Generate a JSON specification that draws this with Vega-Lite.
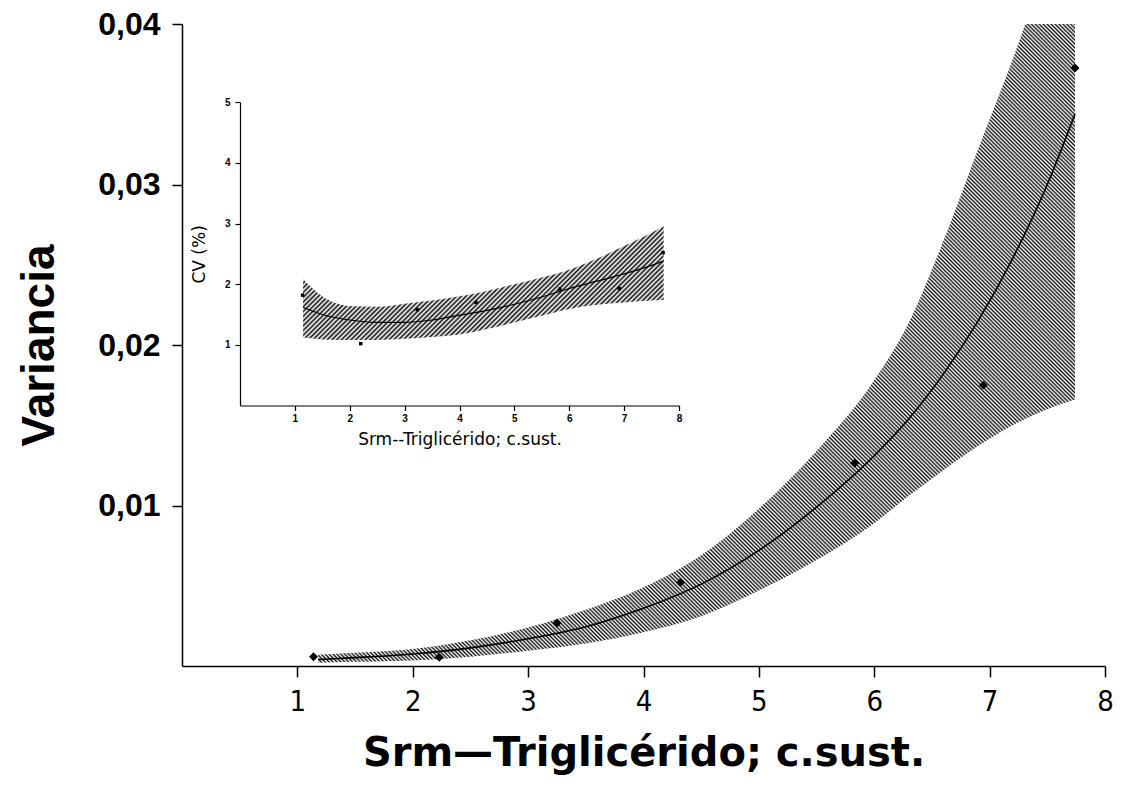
{
  "$schema": "https://vega.github.io/schema/vega-lite/v6.json",
  "width": 923,
  "height": 642,
  "autosize": "none",
  "padding": {"left": 182, "top": 24, "right": 17, "bottom": 123},
  "background": "white",
  "config": {"view": {"stroke": null}, "axis": {"grid": false, "labelFlush": false, "labelOverlap": false}},
  "datasets": {
    "mainCurve": [
      {"x": 1.18, "fit": 0.0004, "lo": 0.0002, "hi": 0.0007},
      {"x": 1.5, "fit": 0.00052, "lo": 0.00026, "hi": 0.00082},
      {"x": 2.0, "fit": 0.00075, "lo": 0.00035, "hi": 0.00106},
      {"x": 2.5, "fit": 0.00113, "lo": 0.00058, "hi": 0.0016},
      {"x": 3.0, "fit": 0.0017, "lo": 0.00095, "hi": 0.0024},
      {"x": 3.5, "fit": 0.00245, "lo": 0.0014, "hi": 0.0035},
      {"x": 4.0, "fit": 0.0036, "lo": 0.0021, "hi": 0.0049},
      {"x": 4.5, "fit": 0.0051, "lo": 0.0031, "hi": 0.0069},
      {"x": 5.0, "fit": 0.0072, "lo": 0.0047, "hi": 0.0098},
      {"x": 5.5, "fit": 0.0099, "lo": 0.0066, "hi": 0.0134},
      {"x": 6.0, "fit": 0.0131, "lo": 0.0089, "hi": 0.0178},
      {"x": 6.3, "fit": 0.0154, "lo": 0.0106, "hi": 0.0214},
      {"x": 6.6, "fit": 0.0182, "lo": 0.0122, "hi": 0.0265},
      {"x": 6.9, "fit": 0.0215, "lo": 0.0137, "hi": 0.0322},
      {"x": 7.2, "fit": 0.0254, "lo": 0.015, "hi": 0.0378},
      {"x": 7.5, "fit": 0.03, "lo": 0.016, "hi": 0.044},
      {"x": 7.74, "fit": 0.0344, "lo": 0.0166, "hi": 0.049}
    ],
    "mainPts": [
      {"x": 1.14, "v": 0.00058},
      {"x": 2.23, "v": 0.00055},
      {"x": 3.25, "v": 0.00268},
      {"x": 4.32, "v": 0.00521},
      {"x": 5.83, "v": 0.01263},
      {"x": 6.945, "v": 0.0175},
      {"x": 7.74, "v": 0.03726}
    ],
    "insetCurve": [
      {"x": 1.15, "fit": 1.62, "lo": 1.12, "hi": 2.08},
      {"x": 1.5, "fit": 1.5, "lo": 1.09, "hi": 1.8},
      {"x": 2.0, "fit": 1.41, "lo": 1.08, "hi": 1.64},
      {"x": 2.5, "fit": 1.37, "lo": 1.08, "hi": 1.63},
      {"x": 3.0, "fit": 1.37, "lo": 1.1, "hi": 1.68},
      {"x": 3.5, "fit": 1.41, "lo": 1.13, "hi": 1.73},
      {"x": 4.0, "fit": 1.49, "lo": 1.17, "hi": 1.8},
      {"x": 4.5, "fit": 1.57, "lo": 1.26, "hi": 1.89},
      {"x": 5.0, "fit": 1.67, "lo": 1.37, "hi": 2.0},
      {"x": 5.5, "fit": 1.79, "lo": 1.48, "hi": 2.11},
      {"x": 6.0, "fit": 1.93, "lo": 1.59, "hi": 2.24},
      {"x": 6.5, "fit": 2.05, "lo": 1.66, "hi": 2.42},
      {"x": 7.0, "fit": 2.17, "lo": 1.7, "hi": 2.63},
      {"x": 7.5, "fit": 2.31, "lo": 1.73, "hi": 2.85},
      {"x": 7.72, "fit": 2.38, "lo": 1.74, "hi": 2.96}
    ],
    "insetPts": [
      {"x": 1.14, "cv": 1.82},
      {"x": 2.2, "cv": 1.02},
      {"x": 3.23, "cv": 1.58},
      {"x": 4.3, "cv": 1.7},
      {"x": 5.83, "cv": 1.92},
      {"x": 6.91, "cv": 1.93},
      {"x": 7.71, "cv": 2.52}
    ]
  },
  "layer": [
    {
      "layer": [
        {
          "data": {"name": "mainCurve"},
          "mark": {"type": "area", "clip": true, "interpolate": "monotone",
            "fill": {"gradient": "linear", "x1": 0, "y1": 1, "x2": 1, "y2": -0.035, "stops": [
{"offset":0,"color":"#111"},{"offset":0.00125,"color":"#fff"},{"offset":0.0025,"color":"#111"},{"offset":0.00375,"color":"#fff"},{"offset":0.005,"color":"#111"},{"offset":0.00625,"color":"#fff"},{"offset":0.0075,"color":"#111"},{"offset":0.00875,"color":"#fff"},
{"offset":0.01,"color":"#111"},{"offset":0.01125,"color":"#fff"},{"offset":0.0125,"color":"#111"},{"offset":0.01375,"color":"#fff"},{"offset":0.015,"color":"#111"},{"offset":0.01625,"color":"#fff"},{"offset":0.0175,"color":"#111"},{"offset":0.01875,"color":"#fff"},
{"offset":0.02,"color":"#111"},{"offset":0.02125,"color":"#fff"},{"offset":0.0225,"color":"#111"},{"offset":0.02375,"color":"#fff"},{"offset":0.025,"color":"#111"},{"offset":0.02625,"color":"#fff"},{"offset":0.0275,"color":"#111"},{"offset":0.02875,"color":"#fff"},
{"offset":0.03,"color":"#111"},{"offset":0.03125,"color":"#fff"},{"offset":0.0325,"color":"#111"},{"offset":0.03375,"color":"#fff"},{"offset":0.035,"color":"#111"},{"offset":0.03625,"color":"#fff"},{"offset":0.0375,"color":"#111"},{"offset":0.03875,"color":"#fff"},
{"offset":0.04,"color":"#111"},{"offset":0.04125,"color":"#fff"},{"offset":0.0425,"color":"#111"},{"offset":0.04375,"color":"#fff"},{"offset":0.045,"color":"#111"},{"offset":0.04625,"color":"#fff"},{"offset":0.0475,"color":"#111"},{"offset":0.04875,"color":"#fff"},
{"offset":0.05,"color":"#111"},{"offset":0.05125,"color":"#fff"},{"offset":0.0525,"color":"#111"},{"offset":0.05375,"color":"#fff"},{"offset":0.055,"color":"#111"},{"offset":0.05625,"color":"#fff"},{"offset":0.0575,"color":"#111"},{"offset":0.05875,"color":"#fff"},
{"offset":0.06,"color":"#111"},{"offset":0.06125,"color":"#fff"},{"offset":0.0625,"color":"#111"},{"offset":0.06375,"color":"#fff"},{"offset":0.065,"color":"#111"},{"offset":0.06625,"color":"#fff"},{"offset":0.0675,"color":"#111"},{"offset":0.06875,"color":"#fff"},
{"offset":0.07,"color":"#111"},{"offset":0.07125,"color":"#fff"},{"offset":0.0725,"color":"#111"},{"offset":0.07375,"color":"#fff"},{"offset":0.075,"color":"#111"},{"offset":0.07625,"color":"#fff"},{"offset":0.0775,"color":"#111"},{"offset":0.07875,"color":"#fff"},
{"offset":0.08,"color":"#111"},{"offset":0.08125,"color":"#fff"},{"offset":0.0825,"color":"#111"},{"offset":0.08375,"color":"#fff"},{"offset":0.085,"color":"#111"},{"offset":0.08625,"color":"#fff"},{"offset":0.0875,"color":"#111"},{"offset":0.08875,"color":"#fff"},
{"offset":0.09,"color":"#111"},{"offset":0.09125,"color":"#fff"},{"offset":0.0925,"color":"#111"},{"offset":0.09375,"color":"#fff"},{"offset":0.095,"color":"#111"},{"offset":0.09625,"color":"#fff"},{"offset":0.0975,"color":"#111"},{"offset":0.09875,"color":"#fff"},
{"offset":0.1,"color":"#111"},{"offset":0.10125,"color":"#fff"},{"offset":0.1025,"color":"#111"},{"offset":0.10375,"color":"#fff"},{"offset":0.105,"color":"#111"},{"offset":0.10625,"color":"#fff"},{"offset":0.1075,"color":"#111"},{"offset":0.10875,"color":"#fff"},
{"offset":0.11,"color":"#111"},{"offset":0.11125,"color":"#fff"},{"offset":0.1125,"color":"#111"},{"offset":0.11375,"color":"#fff"},{"offset":0.115,"color":"#111"},{"offset":0.11625,"color":"#fff"},{"offset":0.1175,"color":"#111"},{"offset":0.11875,"color":"#fff"},
{"offset":0.12,"color":"#111"},{"offset":0.12125,"color":"#fff"},{"offset":0.1225,"color":"#111"},{"offset":0.12375,"color":"#fff"},{"offset":0.125,"color":"#111"},{"offset":0.12625,"color":"#fff"},{"offset":0.1275,"color":"#111"},{"offset":0.12875,"color":"#fff"},
{"offset":0.13,"color":"#111"},{"offset":0.13125,"color":"#fff"},{"offset":0.1325,"color":"#111"},{"offset":0.13375,"color":"#fff"},{"offset":0.135,"color":"#111"},{"offset":0.13625,"color":"#fff"},{"offset":0.1375,"color":"#111"},{"offset":0.13875,"color":"#fff"},
{"offset":0.14,"color":"#111"},{"offset":0.14125,"color":"#fff"},{"offset":0.1425,"color":"#111"},{"offset":0.14375,"color":"#fff"},{"offset":0.145,"color":"#111"},{"offset":0.14625,"color":"#fff"},{"offset":0.1475,"color":"#111"},{"offset":0.14875,"color":"#fff"},
{"offset":0.15,"color":"#111"},{"offset":0.15125,"color":"#fff"},{"offset":0.1525,"color":"#111"},{"offset":0.15375,"color":"#fff"},{"offset":0.155,"color":"#111"},{"offset":0.15625,"color":"#fff"},{"offset":0.1575,"color":"#111"},{"offset":0.15875,"color":"#fff"},
{"offset":0.16,"color":"#111"},{"offset":0.16125,"color":"#fff"},{"offset":0.1625,"color":"#111"},{"offset":0.16375,"color":"#fff"},{"offset":0.165,"color":"#111"},{"offset":0.16625,"color":"#fff"},{"offset":0.1675,"color":"#111"},{"offset":0.16875,"color":"#fff"},
{"offset":0.17,"color":"#111"},{"offset":0.17125,"color":"#fff"},{"offset":0.1725,"color":"#111"},{"offset":0.17375,"color":"#fff"},{"offset":0.175,"color":"#111"},{"offset":0.17625,"color":"#fff"},{"offset":0.1775,"color":"#111"},{"offset":0.17875,"color":"#fff"},
{"offset":0.18,"color":"#111"},{"offset":0.18125,"color":"#fff"},{"offset":0.1825,"color":"#111"},{"offset":0.18375,"color":"#fff"},{"offset":0.185,"color":"#111"},{"offset":0.18625,"color":"#fff"},{"offset":0.1875,"color":"#111"},{"offset":0.18875,"color":"#fff"},
{"offset":0.19,"color":"#111"},{"offset":0.19125,"color":"#fff"},{"offset":0.1925,"color":"#111"},{"offset":0.19375,"color":"#fff"},{"offset":0.195,"color":"#111"},{"offset":0.19625,"color":"#fff"},{"offset":0.1975,"color":"#111"},{"offset":0.19875,"color":"#fff"},
{"offset":0.2,"color":"#111"},{"offset":0.20125,"color":"#fff"},{"offset":0.2025,"color":"#111"},{"offset":0.20375,"color":"#fff"},{"offset":0.205,"color":"#111"},{"offset":0.20625,"color":"#fff"},{"offset":0.2075,"color":"#111"},{"offset":0.20875,"color":"#fff"},
{"offset":0.21,"color":"#111"},{"offset":0.21125,"color":"#fff"},{"offset":0.2125,"color":"#111"},{"offset":0.21375,"color":"#fff"},{"offset":0.215,"color":"#111"},{"offset":0.21625,"color":"#fff"},{"offset":0.2175,"color":"#111"},{"offset":0.21875,"color":"#fff"},
{"offset":0.22,"color":"#111"},{"offset":0.22125,"color":"#fff"},{"offset":0.2225,"color":"#111"},{"offset":0.22375,"color":"#fff"},{"offset":0.225,"color":"#111"},{"offset":0.22625,"color":"#fff"},{"offset":0.2275,"color":"#111"},{"offset":0.22875,"color":"#fff"},
{"offset":0.23,"color":"#111"},{"offset":0.23125,"color":"#fff"},{"offset":0.2325,"color":"#111"},{"offset":0.23375,"color":"#fff"},{"offset":0.235,"color":"#111"},{"offset":0.23625,"color":"#fff"},{"offset":0.2375,"color":"#111"},{"offset":0.23875,"color":"#fff"},
{"offset":0.24,"color":"#111"},{"offset":0.24125,"color":"#fff"},{"offset":0.2425,"color":"#111"},{"offset":0.24375,"color":"#fff"},{"offset":0.245,"color":"#111"},{"offset":0.24625,"color":"#fff"},{"offset":0.2475,"color":"#111"},{"offset":0.24875,"color":"#fff"},
{"offset":0.25,"color":"#111"},{"offset":0.25125,"color":"#fff"},{"offset":0.2525,"color":"#111"},{"offset":0.25375,"color":"#fff"},{"offset":0.255,"color":"#111"},{"offset":0.25625,"color":"#fff"},{"offset":0.2575,"color":"#111"},{"offset":0.25875,"color":"#fff"},
{"offset":0.26,"color":"#111"},{"offset":0.26125,"color":"#fff"},{"offset":0.2625,"color":"#111"},{"offset":0.26375,"color":"#fff"},{"offset":0.265,"color":"#111"},{"offset":0.26625,"color":"#fff"},{"offset":0.2675,"color":"#111"},{"offset":0.26875,"color":"#fff"},
{"offset":0.27,"color":"#111"},{"offset":0.27125,"color":"#fff"},{"offset":0.2725,"color":"#111"},{"offset":0.27375,"color":"#fff"},{"offset":0.275,"color":"#111"},{"offset":0.27625,"color":"#fff"},{"offset":0.2775,"color":"#111"},{"offset":0.27875,"color":"#fff"},
{"offset":0.28,"color":"#111"},{"offset":0.28125,"color":"#fff"},{"offset":0.2825,"color":"#111"},{"offset":0.28375,"color":"#fff"},{"offset":0.285,"color":"#111"},{"offset":0.28625,"color":"#fff"},{"offset":0.2875,"color":"#111"},{"offset":0.28875,"color":"#fff"},
{"offset":0.29,"color":"#111"},{"offset":0.29125,"color":"#fff"},{"offset":0.2925,"color":"#111"},{"offset":0.29375,"color":"#fff"},{"offset":0.295,"color":"#111"},{"offset":0.29625,"color":"#fff"},{"offset":0.2975,"color":"#111"},{"offset":0.29875,"color":"#fff"},
{"offset":0.3,"color":"#111"},{"offset":0.30125,"color":"#fff"},{"offset":0.3025,"color":"#111"},{"offset":0.30375,"color":"#fff"},{"offset":0.305,"color":"#111"},{"offset":0.30625,"color":"#fff"},{"offset":0.3075,"color":"#111"},{"offset":0.30875,"color":"#fff"},
{"offset":0.31,"color":"#111"},{"offset":0.31125,"color":"#fff"},{"offset":0.3125,"color":"#111"},{"offset":0.31375,"color":"#fff"},{"offset":0.315,"color":"#111"},{"offset":0.31625,"color":"#fff"},{"offset":0.3175,"color":"#111"},{"offset":0.31875,"color":"#fff"},
{"offset":0.32,"color":"#111"},{"offset":0.32125,"color":"#fff"},{"offset":0.3225,"color":"#111"},{"offset":0.32375,"color":"#fff"},{"offset":0.325,"color":"#111"},{"offset":0.32625,"color":"#fff"},{"offset":0.3275,"color":"#111"},{"offset":0.32875,"color":"#fff"},
{"offset":0.33,"color":"#111"},{"offset":0.33125,"color":"#fff"},{"offset":0.3325,"color":"#111"},{"offset":0.33375,"color":"#fff"},{"offset":0.335,"color":"#111"},{"offset":0.33625,"color":"#fff"},{"offset":0.3375,"color":"#111"},{"offset":0.33875,"color":"#fff"},
{"offset":0.34,"color":"#111"},{"offset":0.34125,"color":"#fff"},{"offset":0.3425,"color":"#111"},{"offset":0.34375,"color":"#fff"},{"offset":0.345,"color":"#111"},{"offset":0.34625,"color":"#fff"},{"offset":0.3475,"color":"#111"},{"offset":0.34875,"color":"#fff"},
{"offset":0.35,"color":"#111"},{"offset":0.35125,"color":"#fff"},{"offset":0.3525,"color":"#111"},{"offset":0.35375,"color":"#fff"},{"offset":0.355,"color":"#111"},{"offset":0.35625,"color":"#fff"},{"offset":0.3575,"color":"#111"},{"offset":0.35875,"color":"#fff"},
{"offset":0.36,"color":"#111"},{"offset":0.36125,"color":"#fff"},{"offset":0.3625,"color":"#111"},{"offset":0.36375,"color":"#fff"},{"offset":0.365,"color":"#111"},{"offset":0.36625,"color":"#fff"},{"offset":0.3675,"color":"#111"},{"offset":0.36875,"color":"#fff"},
{"offset":0.37,"color":"#111"},{"offset":0.37125,"color":"#fff"},{"offset":0.3725,"color":"#111"},{"offset":0.37375,"color":"#fff"},{"offset":0.375,"color":"#111"},{"offset":0.37625,"color":"#fff"},{"offset":0.3775,"color":"#111"},{"offset":0.37875,"color":"#fff"},
{"offset":0.38,"color":"#111"},{"offset":0.38125,"color":"#fff"},{"offset":0.3825,"color":"#111"},{"offset":0.38375,"color":"#fff"},{"offset":0.385,"color":"#111"},{"offset":0.38625,"color":"#fff"},{"offset":0.3875,"color":"#111"},{"offset":0.38875,"color":"#fff"},
{"offset":0.39,"color":"#111"},{"offset":0.39125,"color":"#fff"},{"offset":0.3925,"color":"#111"},{"offset":0.39375,"color":"#fff"},{"offset":0.395,"color":"#111"},{"offset":0.39625,"color":"#fff"},{"offset":0.3975,"color":"#111"},{"offset":0.39875,"color":"#fff"},
{"offset":0.4,"color":"#111"},{"offset":0.40125,"color":"#fff"},{"offset":0.4025,"color":"#111"},{"offset":0.40375,"color":"#fff"},{"offset":0.405,"color":"#111"},{"offset":0.40625,"color":"#fff"},{"offset":0.4075,"color":"#111"},{"offset":0.40875,"color":"#fff"},
{"offset":0.41,"color":"#111"},{"offset":0.41125,"color":"#fff"},{"offset":0.4125,"color":"#111"},{"offset":0.41375,"color":"#fff"},{"offset":0.415,"color":"#111"},{"offset":0.41625,"color":"#fff"},{"offset":0.4175,"color":"#111"},{"offset":0.41875,"color":"#fff"},
{"offset":0.42,"color":"#111"},{"offset":0.42125,"color":"#fff"},{"offset":0.4225,"color":"#111"},{"offset":0.42375,"color":"#fff"},{"offset":0.425,"color":"#111"},{"offset":0.42625,"color":"#fff"},{"offset":0.4275,"color":"#111"},{"offset":0.42875,"color":"#fff"},
{"offset":0.43,"color":"#111"},{"offset":0.43125,"color":"#fff"},{"offset":0.4325,"color":"#111"},{"offset":0.43375,"color":"#fff"},{"offset":0.435,"color":"#111"},{"offset":0.43625,"color":"#fff"},{"offset":0.4375,"color":"#111"},{"offset":0.43875,"color":"#fff"},
{"offset":0.44,"color":"#111"},{"offset":0.44125,"color":"#fff"},{"offset":0.4425,"color":"#111"},{"offset":0.44375,"color":"#fff"},{"offset":0.445,"color":"#111"},{"offset":0.44625,"color":"#fff"},{"offset":0.4475,"color":"#111"},{"offset":0.44875,"color":"#fff"},
{"offset":0.45,"color":"#111"},{"offset":0.45125,"color":"#fff"},{"offset":0.4525,"color":"#111"},{"offset":0.45375,"color":"#fff"},{"offset":0.455,"color":"#111"},{"offset":0.45625,"color":"#fff"},{"offset":0.4575,"color":"#111"},{"offset":0.45875,"color":"#fff"},
{"offset":0.46,"color":"#111"},{"offset":0.46125,"color":"#fff"},{"offset":0.4625,"color":"#111"},{"offset":0.46375,"color":"#fff"},{"offset":0.465,"color":"#111"},{"offset":0.46625,"color":"#fff"},{"offset":0.4675,"color":"#111"},{"offset":0.46875,"color":"#fff"},
{"offset":0.47,"color":"#111"},{"offset":0.47125,"color":"#fff"},{"offset":0.4725,"color":"#111"},{"offset":0.47375,"color":"#fff"},{"offset":0.475,"color":"#111"},{"offset":0.47625,"color":"#fff"},{"offset":0.4775,"color":"#111"},{"offset":0.47875,"color":"#fff"},
{"offset":0.48,"color":"#111"},{"offset":0.48125,"color":"#fff"},{"offset":0.4825,"color":"#111"},{"offset":0.48375,"color":"#fff"},{"offset":0.485,"color":"#111"},{"offset":0.48625,"color":"#fff"},{"offset":0.4875,"color":"#111"},{"offset":0.48875,"color":"#fff"},
{"offset":0.49,"color":"#111"},{"offset":0.49125,"color":"#fff"},{"offset":0.4925,"color":"#111"},{"offset":0.49375,"color":"#fff"},{"offset":0.495,"color":"#111"},{"offset":0.49625,"color":"#fff"},{"offset":0.4975,"color":"#111"},{"offset":0.49875,"color":"#fff"},
{"offset":0.5,"color":"#111"},{"offset":0.50125,"color":"#fff"},{"offset":0.5025,"color":"#111"},{"offset":0.50375,"color":"#fff"},{"offset":0.505,"color":"#111"},{"offset":0.50625,"color":"#fff"},{"offset":0.5075,"color":"#111"},{"offset":0.50875,"color":"#fff"},
{"offset":0.51,"color":"#111"},{"offset":0.51125,"color":"#fff"},{"offset":0.5125,"color":"#111"},{"offset":0.51375,"color":"#fff"},{"offset":0.515,"color":"#111"},{"offset":0.51625,"color":"#fff"},{"offset":0.5175,"color":"#111"},{"offset":0.51875,"color":"#fff"},
{"offset":0.52,"color":"#111"},{"offset":0.52125,"color":"#fff"},{"offset":0.5225,"color":"#111"},{"offset":0.52375,"color":"#fff"},{"offset":0.525,"color":"#111"},{"offset":0.52625,"color":"#fff"},{"offset":0.5275,"color":"#111"},{"offset":0.52875,"color":"#fff"},
{"offset":0.53,"color":"#111"},{"offset":0.53125,"color":"#fff"},{"offset":0.5325,"color":"#111"},{"offset":0.53375,"color":"#fff"},{"offset":0.535,"color":"#111"},{"offset":0.53625,"color":"#fff"},{"offset":0.5375,"color":"#111"},{"offset":0.53875,"color":"#fff"},
{"offset":0.54,"color":"#111"},{"offset":0.54125,"color":"#fff"},{"offset":0.5425,"color":"#111"},{"offset":0.54375,"color":"#fff"},{"offset":0.545,"color":"#111"},{"offset":0.54625,"color":"#fff"},{"offset":0.5475,"color":"#111"},{"offset":0.54875,"color":"#fff"},
{"offset":0.55,"color":"#111"},{"offset":0.55125,"color":"#fff"},{"offset":0.5525,"color":"#111"},{"offset":0.55375,"color":"#fff"},{"offset":0.555,"color":"#111"},{"offset":0.55625,"color":"#fff"},{"offset":0.5575,"color":"#111"},{"offset":0.55875,"color":"#fff"},
{"offset":0.56,"color":"#111"},{"offset":0.56125,"color":"#fff"},{"offset":0.5625,"color":"#111"},{"offset":0.56375,"color":"#fff"},{"offset":0.565,"color":"#111"},{"offset":0.56625,"color":"#fff"},{"offset":0.5675,"color":"#111"},{"offset":0.56875,"color":"#fff"},
{"offset":0.57,"color":"#111"},{"offset":0.57125,"color":"#fff"},{"offset":0.5725,"color":"#111"},{"offset":0.57375,"color":"#fff"},{"offset":0.575,"color":"#111"},{"offset":0.57625,"color":"#fff"},{"offset":0.5775,"color":"#111"},{"offset":0.57875,"color":"#fff"},
{"offset":0.58,"color":"#111"},{"offset":0.58125,"color":"#fff"},{"offset":0.5825,"color":"#111"},{"offset":0.58375,"color":"#fff"},{"offset":0.585,"color":"#111"},{"offset":0.58625,"color":"#fff"},{"offset":0.5875,"color":"#111"},{"offset":0.58875,"color":"#fff"},
{"offset":0.59,"color":"#111"},{"offset":0.59125,"color":"#fff"},{"offset":0.5925,"color":"#111"},{"offset":0.59375,"color":"#fff"},{"offset":0.595,"color":"#111"},{"offset":0.59625,"color":"#fff"},{"offset":0.5975,"color":"#111"},{"offset":0.59875,"color":"#fff"},
{"offset":0.6,"color":"#111"},{"offset":0.60125,"color":"#fff"},{"offset":0.6025,"color":"#111"},{"offset":0.60375,"color":"#fff"},{"offset":0.605,"color":"#111"},{"offset":0.60625,"color":"#fff"},{"offset":0.6075,"color":"#111"},{"offset":0.60875,"color":"#fff"},
{"offset":0.61,"color":"#111"},{"offset":0.61125,"color":"#fff"},{"offset":0.6125,"color":"#111"},{"offset":0.61375,"color":"#fff"},{"offset":0.615,"color":"#111"},{"offset":0.61625,"color":"#fff"},{"offset":0.6175,"color":"#111"},{"offset":0.61875,"color":"#fff"},
{"offset":0.62,"color":"#111"},{"offset":0.62125,"color":"#fff"},{"offset":0.6225,"color":"#111"},{"offset":0.62375,"color":"#fff"},{"offset":0.625,"color":"#111"},{"offset":0.62625,"color":"#fff"},{"offset":0.6275,"color":"#111"},{"offset":0.62875,"color":"#fff"},
{"offset":0.63,"color":"#111"},{"offset":0.63125,"color":"#fff"},{"offset":0.6325,"color":"#111"},{"offset":0.63375,"color":"#fff"},{"offset":0.635,"color":"#111"},{"offset":0.63625,"color":"#fff"},{"offset":0.6375,"color":"#111"},{"offset":0.63875,"color":"#fff"},
{"offset":0.64,"color":"#111"},{"offset":0.64125,"color":"#fff"},{"offset":0.6425,"color":"#111"},{"offset":0.64375,"color":"#fff"},{"offset":0.645,"color":"#111"},{"offset":0.64625,"color":"#fff"},{"offset":0.6475,"color":"#111"},{"offset":0.64875,"color":"#fff"},
{"offset":0.65,"color":"#111"},{"offset":0.65125,"color":"#fff"},{"offset":0.6525,"color":"#111"},{"offset":0.65375,"color":"#fff"},{"offset":0.655,"color":"#111"},{"offset":0.65625,"color":"#fff"},{"offset":0.6575,"color":"#111"},{"offset":0.65875,"color":"#fff"},
{"offset":0.66,"color":"#111"},{"offset":0.66125,"color":"#fff"},{"offset":0.6625,"color":"#111"},{"offset":0.66375,"color":"#fff"},{"offset":0.665,"color":"#111"},{"offset":0.66625,"color":"#fff"},{"offset":0.6675,"color":"#111"},{"offset":0.66875,"color":"#fff"},
{"offset":0.67,"color":"#111"},{"offset":0.67125,"color":"#fff"},{"offset":0.6725,"color":"#111"},{"offset":0.67375,"color":"#fff"},{"offset":0.675,"color":"#111"},{"offset":0.67625,"color":"#fff"},{"offset":0.6775,"color":"#111"},{"offset":0.67875,"color":"#fff"},
{"offset":0.68,"color":"#111"},{"offset":0.68125,"color":"#fff"},{"offset":0.6825,"color":"#111"},{"offset":0.68375,"color":"#fff"},{"offset":0.685,"color":"#111"},{"offset":0.68625,"color":"#fff"},{"offset":0.6875,"color":"#111"},{"offset":0.68875,"color":"#fff"},
{"offset":0.69,"color":"#111"},{"offset":0.69125,"color":"#fff"},{"offset":0.6925,"color":"#111"},{"offset":0.69375,"color":"#fff"},{"offset":0.695,"color":"#111"},{"offset":0.69625,"color":"#fff"},{"offset":0.6975,"color":"#111"},{"offset":0.69875,"color":"#fff"},
{"offset":0.7,"color":"#111"},{"offset":0.70125,"color":"#fff"},{"offset":0.7025,"color":"#111"},{"offset":0.70375,"color":"#fff"},{"offset":0.705,"color":"#111"},{"offset":0.70625,"color":"#fff"},{"offset":0.7075,"color":"#111"},{"offset":0.70875,"color":"#fff"},
{"offset":0.71,"color":"#111"},{"offset":0.71125,"color":"#fff"},{"offset":0.7125,"color":"#111"},{"offset":0.71375,"color":"#fff"},{"offset":0.715,"color":"#111"},{"offset":0.71625,"color":"#fff"},{"offset":0.7175,"color":"#111"},{"offset":0.71875,"color":"#fff"},
{"offset":0.72,"color":"#111"},{"offset":0.72125,"color":"#fff"},{"offset":0.7225,"color":"#111"},{"offset":0.72375,"color":"#fff"},{"offset":0.725,"color":"#111"},{"offset":0.72625,"color":"#fff"},{"offset":0.7275,"color":"#111"},{"offset":0.72875,"color":"#fff"},
{"offset":0.73,"color":"#111"},{"offset":0.73125,"color":"#fff"},{"offset":0.7325,"color":"#111"},{"offset":0.73375,"color":"#fff"},{"offset":0.735,"color":"#111"},{"offset":0.73625,"color":"#fff"},{"offset":0.7375,"color":"#111"},{"offset":0.73875,"color":"#fff"},
{"offset":0.74,"color":"#111"},{"offset":0.74125,"color":"#fff"},{"offset":0.7425,"color":"#111"},{"offset":0.74375,"color":"#fff"},{"offset":0.745,"color":"#111"},{"offset":0.74625,"color":"#fff"},{"offset":0.7475,"color":"#111"},{"offset":0.74875,"color":"#fff"},
{"offset":0.75,"color":"#111"},{"offset":0.75125,"color":"#fff"},{"offset":0.7525,"color":"#111"},{"offset":0.75375,"color":"#fff"},{"offset":0.755,"color":"#111"},{"offset":0.75625,"color":"#fff"},{"offset":0.7575,"color":"#111"},{"offset":0.75875,"color":"#fff"},
{"offset":0.76,"color":"#111"},{"offset":0.76125,"color":"#fff"},{"offset":0.7625,"color":"#111"},{"offset":0.76375,"color":"#fff"},{"offset":0.765,"color":"#111"},{"offset":0.76625,"color":"#fff"},{"offset":0.7675,"color":"#111"},{"offset":0.76875,"color":"#fff"},
{"offset":0.77,"color":"#111"},{"offset":0.77125,"color":"#fff"},{"offset":0.7725,"color":"#111"},{"offset":0.77375,"color":"#fff"},{"offset":0.775,"color":"#111"},{"offset":0.77625,"color":"#fff"},{"offset":0.7775,"color":"#111"},{"offset":0.77875,"color":"#fff"},
{"offset":0.78,"color":"#111"},{"offset":0.78125,"color":"#fff"},{"offset":0.7825,"color":"#111"},{"offset":0.78375,"color":"#fff"},{"offset":0.785,"color":"#111"},{"offset":0.78625,"color":"#fff"},{"offset":0.7875,"color":"#111"},{"offset":0.78875,"color":"#fff"},
{"offset":0.79,"color":"#111"},{"offset":0.79125,"color":"#fff"},{"offset":0.7925,"color":"#111"},{"offset":0.79375,"color":"#fff"},{"offset":0.795,"color":"#111"},{"offset":0.79625,"color":"#fff"},{"offset":0.7975,"color":"#111"},{"offset":0.79875,"color":"#fff"},
{"offset":0.8,"color":"#111"},{"offset":0.80125,"color":"#fff"},{"offset":0.8025,"color":"#111"},{"offset":0.80375,"color":"#fff"},{"offset":0.805,"color":"#111"},{"offset":0.80625,"color":"#fff"},{"offset":0.8075,"color":"#111"},{"offset":0.80875,"color":"#fff"},
{"offset":0.81,"color":"#111"},{"offset":0.81125,"color":"#fff"},{"offset":0.8125,"color":"#111"},{"offset":0.81375,"color":"#fff"},{"offset":0.815,"color":"#111"},{"offset":0.81625,"color":"#fff"},{"offset":0.8175,"color":"#111"},{"offset":0.81875,"color":"#fff"},
{"offset":0.82,"color":"#111"},{"offset":0.82125,"color":"#fff"},{"offset":0.8225,"color":"#111"},{"offset":0.82375,"color":"#fff"},{"offset":0.825,"color":"#111"},{"offset":0.82625,"color":"#fff"},{"offset":0.8275,"color":"#111"},{"offset":0.82875,"color":"#fff"},
{"offset":0.83,"color":"#111"},{"offset":0.83125,"color":"#fff"},{"offset":0.8325,"color":"#111"},{"offset":0.83375,"color":"#fff"},{"offset":0.835,"color":"#111"},{"offset":0.83625,"color":"#fff"},{"offset":0.8375,"color":"#111"},{"offset":0.83875,"color":"#fff"},
{"offset":0.84,"color":"#111"},{"offset":0.84125,"color":"#fff"},{"offset":0.8425,"color":"#111"},{"offset":0.84375,"color":"#fff"},{"offset":0.845,"color":"#111"},{"offset":0.84625,"color":"#fff"},{"offset":0.8475,"color":"#111"},{"offset":0.84875,"color":"#fff"},
{"offset":0.85,"color":"#111"},{"offset":0.85125,"color":"#fff"},{"offset":0.8525,"color":"#111"},{"offset":0.85375,"color":"#fff"},{"offset":0.855,"color":"#111"},{"offset":0.85625,"color":"#fff"},{"offset":0.8575,"color":"#111"},{"offset":0.85875,"color":"#fff"},
{"offset":0.86,"color":"#111"},{"offset":0.86125,"color":"#fff"},{"offset":0.8625,"color":"#111"},{"offset":0.86375,"color":"#fff"},{"offset":0.865,"color":"#111"},{"offset":0.86625,"color":"#fff"},{"offset":0.8675,"color":"#111"},{"offset":0.86875,"color":"#fff"},
{"offset":0.87,"color":"#111"},{"offset":0.87125,"color":"#fff"},{"offset":0.8725,"color":"#111"},{"offset":0.87375,"color":"#fff"},{"offset":0.875,"color":"#111"},{"offset":0.87625,"color":"#fff"},{"offset":0.8775,"color":"#111"},{"offset":0.87875,"color":"#fff"},
{"offset":0.88,"color":"#111"},{"offset":0.88125,"color":"#fff"},{"offset":0.8825,"color":"#111"},{"offset":0.88375,"color":"#fff"},{"offset":0.885,"color":"#111"},{"offset":0.88625,"color":"#fff"},{"offset":0.8875,"color":"#111"},{"offset":0.88875,"color":"#fff"},
{"offset":0.89,"color":"#111"},{"offset":0.89125,"color":"#fff"},{"offset":0.8925,"color":"#111"},{"offset":0.89375,"color":"#fff"},{"offset":0.895,"color":"#111"},{"offset":0.89625,"color":"#fff"},{"offset":0.8975,"color":"#111"},{"offset":0.89875,"color":"#fff"},
{"offset":0.9,"color":"#111"},{"offset":0.90125,"color":"#fff"},{"offset":0.9025,"color":"#111"},{"offset":0.90375,"color":"#fff"},{"offset":0.905,"color":"#111"},{"offset":0.90625,"color":"#fff"},{"offset":0.9075,"color":"#111"},{"offset":0.90875,"color":"#fff"},
{"offset":0.91,"color":"#111"},{"offset":0.91125,"color":"#fff"},{"offset":0.9125,"color":"#111"},{"offset":0.91375,"color":"#fff"},{"offset":0.915,"color":"#111"},{"offset":0.91625,"color":"#fff"},{"offset":0.9175,"color":"#111"},{"offset":0.91875,"color":"#fff"},
{"offset":0.92,"color":"#111"},{"offset":0.92125,"color":"#fff"},{"offset":0.9225,"color":"#111"},{"offset":0.92375,"color":"#fff"},{"offset":0.925,"color":"#111"},{"offset":0.92625,"color":"#fff"},{"offset":0.9275,"color":"#111"},{"offset":0.92875,"color":"#fff"},
{"offset":0.93,"color":"#111"},{"offset":0.93125,"color":"#fff"},{"offset":0.9325,"color":"#111"},{"offset":0.93375,"color":"#fff"},{"offset":0.935,"color":"#111"},{"offset":0.93625,"color":"#fff"},{"offset":0.9375,"color":"#111"},{"offset":0.93875,"color":"#fff"},
{"offset":0.94,"color":"#111"},{"offset":0.94125,"color":"#fff"},{"offset":0.9425,"color":"#111"},{"offset":0.94375,"color":"#fff"},{"offset":0.945,"color":"#111"},{"offset":0.94625,"color":"#fff"},{"offset":0.9475,"color":"#111"},{"offset":0.94875,"color":"#fff"},
{"offset":0.95,"color":"#111"},{"offset":0.95125,"color":"#fff"},{"offset":0.9525,"color":"#111"},{"offset":0.95375,"color":"#fff"},{"offset":0.955,"color":"#111"},{"offset":0.95625,"color":"#fff"},{"offset":0.9575,"color":"#111"},{"offset":0.95875,"color":"#fff"},
{"offset":0.96,"color":"#111"},{"offset":0.96125,"color":"#fff"},{"offset":0.9625,"color":"#111"},{"offset":0.96375,"color":"#fff"},{"offset":0.965,"color":"#111"},{"offset":0.96625,"color":"#fff"},{"offset":0.9675,"color":"#111"},{"offset":0.96875,"color":"#fff"},
{"offset":0.97,"color":"#111"},{"offset":0.97125,"color":"#fff"},{"offset":0.9725,"color":"#111"},{"offset":0.97375,"color":"#fff"},{"offset":0.975,"color":"#111"},{"offset":0.97625,"color":"#fff"},{"offset":0.9775,"color":"#111"},{"offset":0.97875,"color":"#fff"},
{"offset":0.98,"color":"#111"},{"offset":0.98125,"color":"#fff"},{"offset":0.9825,"color":"#111"},{"offset":0.98375,"color":"#fff"},{"offset":0.985,"color":"#111"},{"offset":0.98625,"color":"#fff"},{"offset":0.9875,"color":"#111"},{"offset":0.98875,"color":"#fff"},
{"offset":0.99,"color":"#111"},{"offset":1,"color":"#fff"}
            ]}},
          "encoding": {
            "x": {
              "field": "x", "type": "quantitative", "title": "Srm—Triglicérido; c.sust.",
              "scale": {"domain": [0, 8], "nice": false, "zero": false},
              "axis": {
                "values": [1, 2, 3, 4, 5, 6, 7, 8], "format": "d",
                "domainColor": "#000", "domainWidth": 1.5,
                "tickColor": "#000", "tickWidth": 1.5, "tickSize": 11,
                "labelFont": "DejaVu Sans Condensed, Liberation Sans", "labelFontSize": 29, "labelColor": "#000", "labelPadding": 10,
                "titleFont": "DejaVu Sans", "titleFontSize": 40, "titleFontWeight": "bold", "titleColor": "#000", "titlePadding": 17
              }
            },
            "y": {
              "field": "hi", "type": "quantitative", "title": "Variancia",
              "scale": {"domain": [0, 0.04], "nice": false, "zero": false},
              "axis": {
                "values": [0.01, 0.02, 0.03, 0.04],
                "labelExpr": "replace(format(datum.value, '.2f'), '.', ',')",
                "domainColor": "#000", "domainWidth": 1.5,
                "tickColor": "#000", "tickWidth": 1.5, "tickSize": 10,
                "labelFont": "Liberation Sans", "labelFontSize": 32, "labelFontWeight": "bold", "labelColor": "#000", "labelPadding": 12,
                "titleFont": "Liberation Sans", "titleFontSize": 46, "titleFontWeight": "bold", "titleColor": "#000", "titlePadding": 34
              }
            },
            "y2": {"field": "lo"}
          }
        },
        {
          "data": {"name": "mainCurve"},
          "mark": {"type": "line", "color": "#000", "strokeWidth": 1.6, "interpolate": "monotone"},
          "encoding": {
            "x": {"field": "x", "type": "quantitative", "title": "Srm—Triglicérido; c.sust."},
            "y": {"field": "fit", "type": "quantitative", "title": "Variancia"}
          }
        },
        {
          "data": {"name": "mainPts"},
          "mark": {"type": "point", "shape": "diamond", "filled": true, "color": "#000", "opacity": 1, "size": 80},
          "encoding": {
            "x": {"field": "x", "type": "quantitative", "title": "Srm—Triglicérido; c.sust."},
            "y": {"field": "v", "type": "quantitative", "title": "Variancia"}
          }
        }
      ]
    },
    {
      "layer": [
        {
          "data": {"name": "insetCurve"},
          "mark": {"type": "area", "interpolate": "monotone",
            "fill": {"gradient": "linear", "x1": 0, "y1": 0, "x2": 1.2, "y2": 0.38, "stops": [
{"offset":0,"color":"#111"},{"offset":0.005,"color":"#fff"},{"offset":0.01,"color":"#111"},{"offset":0.015,"color":"#fff"},{"offset":0.02,"color":"#111"},{"offset":0.025,"color":"#fff"},{"offset":0.03,"color":"#111"},{"offset":0.035,"color":"#fff"},{"offset":0.04,"color":"#111"},{"offset":0.045,"color":"#fff"},
{"offset":0.05,"color":"#111"},{"offset":0.055,"color":"#fff"},{"offset":0.06,"color":"#111"},{"offset":0.065,"color":"#fff"},{"offset":0.07,"color":"#111"},{"offset":0.075,"color":"#fff"},{"offset":0.08,"color":"#111"},{"offset":0.085,"color":"#fff"},{"offset":0.09,"color":"#111"},{"offset":0.095,"color":"#fff"},
{"offset":0.1,"color":"#111"},{"offset":0.105,"color":"#fff"},{"offset":0.11,"color":"#111"},{"offset":0.115,"color":"#fff"},{"offset":0.12,"color":"#111"},{"offset":0.125,"color":"#fff"},{"offset":0.13,"color":"#111"},{"offset":0.135,"color":"#fff"},{"offset":0.14,"color":"#111"},{"offset":0.145,"color":"#fff"},
{"offset":0.15,"color":"#111"},{"offset":0.155,"color":"#fff"},{"offset":0.16,"color":"#111"},{"offset":0.165,"color":"#fff"},{"offset":0.17,"color":"#111"},{"offset":0.175,"color":"#fff"},{"offset":0.18,"color":"#111"},{"offset":0.185,"color":"#fff"},{"offset":0.19,"color":"#111"},{"offset":0.195,"color":"#fff"},
{"offset":0.2,"color":"#111"},{"offset":0.205,"color":"#fff"},{"offset":0.21,"color":"#111"},{"offset":0.215,"color":"#fff"},{"offset":0.22,"color":"#111"},{"offset":0.225,"color":"#fff"},{"offset":0.23,"color":"#111"},{"offset":0.235,"color":"#fff"},{"offset":0.24,"color":"#111"},{"offset":0.245,"color":"#fff"},
{"offset":0.25,"color":"#111"},{"offset":0.255,"color":"#fff"},{"offset":0.26,"color":"#111"},{"offset":0.265,"color":"#fff"},{"offset":0.27,"color":"#111"},{"offset":0.275,"color":"#fff"},{"offset":0.28,"color":"#111"},{"offset":0.285,"color":"#fff"},{"offset":0.29,"color":"#111"},{"offset":0.295,"color":"#fff"},
{"offset":0.3,"color":"#111"},{"offset":0.305,"color":"#fff"},{"offset":0.31,"color":"#111"},{"offset":0.315,"color":"#fff"},{"offset":0.32,"color":"#111"},{"offset":0.325,"color":"#fff"},{"offset":0.33,"color":"#111"},{"offset":0.335,"color":"#fff"},{"offset":0.34,"color":"#111"},{"offset":0.345,"color":"#fff"},
{"offset":0.35,"color":"#111"},{"offset":0.355,"color":"#fff"},{"offset":0.36,"color":"#111"},{"offset":0.365,"color":"#fff"},{"offset":0.37,"color":"#111"},{"offset":0.375,"color":"#fff"},{"offset":0.38,"color":"#111"},{"offset":0.385,"color":"#fff"},{"offset":0.39,"color":"#111"},{"offset":0.395,"color":"#fff"},
{"offset":0.4,"color":"#111"},{"offset":0.405,"color":"#fff"},{"offset":0.41,"color":"#111"},{"offset":0.415,"color":"#fff"},{"offset":0.42,"color":"#111"},{"offset":0.425,"color":"#fff"},{"offset":0.43,"color":"#111"},{"offset":0.435,"color":"#fff"},{"offset":0.44,"color":"#111"},{"offset":0.445,"color":"#fff"},
{"offset":0.45,"color":"#111"},{"offset":0.455,"color":"#fff"},{"offset":0.46,"color":"#111"},{"offset":0.465,"color":"#fff"},{"offset":0.47,"color":"#111"},{"offset":0.475,"color":"#fff"},{"offset":0.48,"color":"#111"},{"offset":0.485,"color":"#fff"},{"offset":0.49,"color":"#111"},{"offset":0.495,"color":"#fff"},
{"offset":0.5,"color":"#111"},{"offset":0.505,"color":"#fff"},{"offset":0.51,"color":"#111"},{"offset":0.515,"color":"#fff"},{"offset":0.52,"color":"#111"},{"offset":0.525,"color":"#fff"},{"offset":0.53,"color":"#111"},{"offset":0.535,"color":"#fff"},{"offset":0.54,"color":"#111"},{"offset":0.545,"color":"#fff"},
{"offset":0.55,"color":"#111"},{"offset":0.555,"color":"#fff"},{"offset":0.56,"color":"#111"},{"offset":0.565,"color":"#fff"},{"offset":0.57,"color":"#111"},{"offset":0.575,"color":"#fff"},{"offset":0.58,"color":"#111"},{"offset":0.585,"color":"#fff"},{"offset":0.59,"color":"#111"},{"offset":0.595,"color":"#fff"},
{"offset":0.6,"color":"#111"},{"offset":0.605,"color":"#fff"},{"offset":0.61,"color":"#111"},{"offset":0.615,"color":"#fff"},{"offset":0.62,"color":"#111"},{"offset":0.625,"color":"#fff"},{"offset":0.63,"color":"#111"},{"offset":0.635,"color":"#fff"},{"offset":0.64,"color":"#111"},{"offset":0.645,"color":"#fff"},
{"offset":0.65,"color":"#111"},{"offset":0.655,"color":"#fff"},{"offset":0.66,"color":"#111"},{"offset":0.665,"color":"#fff"},{"offset":0.67,"color":"#111"},{"offset":0.675,"color":"#fff"},{"offset":0.68,"color":"#111"},{"offset":0.685,"color":"#fff"},{"offset":0.69,"color":"#111"},{"offset":0.695,"color":"#fff"},
{"offset":0.7,"color":"#111"},{"offset":0.705,"color":"#fff"},{"offset":0.71,"color":"#111"},{"offset":0.715,"color":"#fff"},{"offset":0.72,"color":"#111"},{"offset":0.725,"color":"#fff"},{"offset":0.73,"color":"#111"},{"offset":0.735,"color":"#fff"},{"offset":0.74,"color":"#111"},{"offset":0.745,"color":"#fff"},
{"offset":0.75,"color":"#111"},{"offset":0.755,"color":"#fff"},{"offset":0.76,"color":"#111"},{"offset":0.765,"color":"#fff"},{"offset":0.77,"color":"#111"},{"offset":0.775,"color":"#fff"},{"offset":0.78,"color":"#111"},{"offset":0.785,"color":"#fff"},{"offset":0.79,"color":"#111"},{"offset":0.795,"color":"#fff"},
{"offset":0.8,"color":"#111"},{"offset":0.805,"color":"#fff"},{"offset":0.81,"color":"#111"},{"offset":0.815,"color":"#fff"},{"offset":0.82,"color":"#111"},{"offset":0.825,"color":"#fff"},{"offset":0.83,"color":"#111"},{"offset":0.835,"color":"#fff"},{"offset":0.84,"color":"#111"},{"offset":0.845,"color":"#fff"},
{"offset":0.85,"color":"#111"},{"offset":0.855,"color":"#fff"},{"offset":0.86,"color":"#111"},{"offset":0.865,"color":"#fff"},{"offset":0.87,"color":"#111"},{"offset":0.875,"color":"#fff"},{"offset":0.88,"color":"#111"},{"offset":0.885,"color":"#fff"},{"offset":0.89,"color":"#111"},{"offset":0.895,"color":"#fff"},
{"offset":0.9,"color":"#111"},{"offset":0.905,"color":"#fff"},{"offset":0.91,"color":"#111"},{"offset":0.915,"color":"#fff"},{"offset":0.92,"color":"#111"},{"offset":0.925,"color":"#fff"},{"offset":0.93,"color":"#111"},{"offset":0.935,"color":"#fff"},{"offset":0.94,"color":"#111"},{"offset":0.945,"color":"#fff"},
{"offset":0.95,"color":"#111"},{"offset":0.955,"color":"#fff"},{"offset":0.96,"color":"#111"},{"offset":0.965,"color":"#fff"},{"offset":0.97,"color":"#111"},{"offset":0.975,"color":"#fff"},{"offset":0.98,"color":"#111"},{"offset":0.985,"color":"#fff"},{"offset":0.99,"color":"#111"},{"offset":0.995,"color":"#fff"},
{"offset":1,"color":"#111"}
            ]}},
          "encoding": {
            "x": {
              "field": "x", "type": "quantitative", "title": "Srm--Triglicérido; c.sust.",
              "scale": {"domain": [0, 8], "range": [58, 497], "nice": false, "zero": false},
              "axis": {
                "orient": "bottom", "offset": -260.5,
                "values": [1, 2, 3, 4, 5, 6, 7, 8], "format": "d",
                "domainColor": "#000", "domainWidth": 1.2,
                "tickColor": "#000", "tickWidth": 1.2, "tickSize": 5,
                "labelFont": "Liberation Sans", "labelFontSize": 10, "labelFontWeight": "bold", "labelColor": "#000", "labelPadding": 3,
                "titleFont": "DejaVu Sans", "titleFontSize": 17, "titleFontWeight": "normal", "titleColor": "#000", "titlePadding": 8
              }
            },
            "y": {
              "field": "hi", "type": "quantitative", "title": "CV (%)",
              "scale": {"domain": [0, 5], "range": [381.5, 78.3], "nice": false, "zero": false},
              "axis": {
                "orient": "left", "offset": -58,
                "values": [1, 2, 3, 4, 5], "format": "d",
                "domainColor": "#000", "domainWidth": 1.2,
                "tickColor": "#000", "tickWidth": 1.2, "tickSize": 5,
                "labelFont": "Liberation Sans", "labelFontSize": 10, "labelFontWeight": "bold", "labelColor": "#000", "labelPadding": 5,
                "titleFont": "DejaVu Sans", "titleFontSize": 17, "titleFontWeight": "normal", "titleColor": "#000", "titlePadding": 16
              }
            },
            "y2": {"field": "lo"}
          }
        },
        {
          "data": {"name": "insetCurve"},
          "mark": {"type": "line", "color": "#000", "strokeWidth": 1.2, "interpolate": "monotone"},
          "encoding": {
            "x": {"field": "x", "type": "quantitative", "title": "Srm--Triglicérido; c.sust."},
            "y": {"field": "fit", "type": "quantitative", "title": "CV (%)"}
          }
        },
        {
          "data": {"name": "insetPts"},
          "mark": {"type": "square", "color": "#000", "opacity": 1, "size": 12},
          "encoding": {
            "x": {"field": "x", "type": "quantitative", "title": "Srm--Triglicérido; c.sust."},
            "y": {"field": "cv", "type": "quantitative", "title": "CV (%)"}
          }
        }
      ]
    }
  ],
  "resolve": {
    "scale": {"x": "independent", "y": "independent"},
    "axis": {"x": "independent", "y": "independent"}
  }
}
